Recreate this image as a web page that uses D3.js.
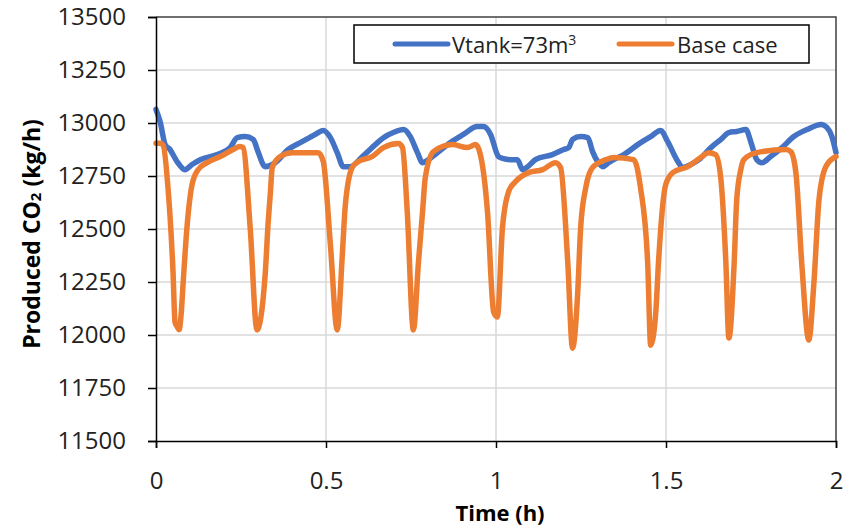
<!DOCTYPE html>
<html>
<head>
<meta charset="utf-8">
<script src="https://cdn.jsdelivr.net/npm/d3@7"></script>
<style>
  html, body { margin: 0; padding: 0; background: #fff; }
  svg { display: block; }
</style>
</head>
<body>
<svg id="chart" width="843" height="526"></svg>
<script>
// Produced CO2 over two hours: buffer tank (73 m3) versus the base case
const vtankTime = [0.000, 0.012, 0.027, 0.041, 0.062, 0.085, 0.106, 0.130, 0.180, 0.218, 0.239, 0.262, 0.286, 0.300, 0.321, 0.351, 0.389, 0.430, 0.468, 0.492, 0.513, 0.533, 0.551, 0.571, 0.607, 0.645, 0.669, 0.698, 0.728, 0.748, 0.769, 0.784, 0.801, 0.828, 0.866, 0.904, 0.945, 0.963, 0.984, 1.007, 1.019, 1.043, 1.063, 1.078, 1.093, 1.116, 1.166, 1.199, 1.214, 1.225, 1.249, 1.270, 1.284, 1.299, 1.314, 1.331, 1.346, 1.376, 1.417, 1.455, 1.484, 1.505, 1.535, 1.549, 1.573, 1.597, 1.632, 1.661, 1.685, 1.708, 1.735, 1.750, 1.767, 1.782, 1.808, 1.841, 1.876, 1.915, 1.956, 1.973, 1.988, 2.000];
const vtankCO2 = [13064, 13007, 12898, 12875, 12818, 12780, 12804, 12827, 12851, 12884, 12931, 12936, 12922, 12865, 12794, 12813, 12875, 12912, 12946, 12965, 12931, 12860, 12794, 12794, 12842, 12898, 12931, 12955, 12969, 12936, 12860, 12813, 12827, 12860, 12908, 12946, 12983, 12983, 12946, 12842, 12833, 12827, 12827, 12780, 12794, 12827, 12851, 12875, 12884, 12922, 12936, 12931, 12865, 12818, 12794, 12813, 12827, 12851, 12898, 12936, 12965, 12912, 12818, 12790, 12804, 12827, 12884, 12922, 12955, 12960, 12969, 12908, 12827, 12813, 12842, 12884, 12936, 12969, 12993, 12979, 12936, 12860];

const baseTime = [0.000, 0.012, 0.021, 0.035, 0.050, 0.056, 0.062, 0.068, 0.074, 0.080, 0.091, 0.106, 0.124, 0.150, 0.189, 0.227, 0.247, 0.256, 0.277, 0.297, 0.321, 0.330, 0.336, 0.342, 0.365, 0.401, 0.477, 0.492, 0.513, 0.533, 0.548, 0.557, 0.577, 0.595, 0.636, 0.669, 0.713, 0.725, 0.739, 0.757, 0.772, 0.784, 0.792, 0.816, 0.872, 0.916, 0.940, 0.954, 0.975, 0.993, 1.004, 1.019, 1.037, 1.057, 1.096, 1.137, 1.175, 1.190, 1.211, 1.225, 1.240, 1.249, 1.264, 1.284, 1.323, 1.346, 1.405, 1.425, 1.446, 1.455, 1.470, 1.478, 1.499, 1.520, 1.564, 1.602, 1.626, 1.646, 1.661, 1.676, 1.685, 1.700, 1.708, 1.720, 1.729, 1.767, 1.853, 1.867, 1.882, 1.900, 1.920, 1.935, 1.950, 1.970, 2.000];
const baseCO2 = [12905, 12905, 12895, 12700, 12300, 12060, 12040, 12025, 12100, 12250, 12506, 12709, 12780, 12813, 12842, 12875, 12889, 12884, 12506, 12024, 12283, 12534, 12662, 12790, 12842, 12860, 12860, 12818, 12425, 12024, 12378, 12615, 12790, 12818, 12842, 12884, 12903, 12884, 12581, 12024, 12345, 12581, 12742, 12865, 12898, 12884, 12898, 12851, 12581, 12108, 12085, 12506, 12676, 12723, 12766, 12780, 12813, 12790, 12345, 11938, 12190, 12506, 12695, 12790, 12827, 12837, 12827, 12695, 12345, 11952, 12108, 12345, 12709, 12766, 12794, 12837, 12860, 12851, 12742, 12345, 11986, 12321, 12638, 12780, 12827, 12860, 12875, 12865, 12766, 12321, 11976, 12245, 12638, 12794, 12842];

const xTicks = [0, 0.5, 1, 1.5, 2];
const yTicks = [11500, 11750, 12000, 12250, 12500, 12750, 13000, 13250, 13500];
const seriesNames = ["Vtank=73m", "Base case"];
const seriesColors = ["#4472C4", "#ED7D31"];

const svg = d3.select("#chart");
const plot = { left: 156, right: 836, top: 17, bottom: 441 };

const x = d3.scaleLinear().domain([0, 2]).range([plot.left, plot.right]);
const y = d3.scaleLinear().domain([11500, 13500]).range([plot.bottom, plot.top]);

const tickFont = "'Open Sans', 'Liberation Sans', sans-serif";

// gridlines
svg.append("g")
  .selectAll("line")
  .data(yTicks.filter(v => v > 11500 && v < 13500))
  .join("line")
  .attr("x1", plot.left).attr("x2", plot.right)
  .attr("y1", d => y(d)).attr("y2", d => y(d))
  .attr("stroke", "#d9d9d9").attr("stroke-width", 1.5);

svg.append("g")
  .selectAll("line")
  .data(xTicks.filter(v => v > 0 && v < 2))
  .join("line")
  .attr("y1", plot.top).attr("y2", plot.bottom)
  .attr("x1", d => x(d)).attr("x2", d => x(d))
  .attr("stroke", "#d9d9d9").attr("stroke-width", 1.5);

// plot frame (top and right)
svg.append("path")
  .attr("d", `M${plot.left},${plot.top}H${plot.right}V${plot.bottom}`)
  .attr("fill", "none").attr("stroke", "#404040").attr("stroke-width", 1.5);

// series lines
const line = d3.line().x(d => x(d[0])).y(d => y(d[1])).curve(d3.curveMonotoneX);
const vtankPts = vtankTime.map((t, i) => [t, vtankCO2[i]]);
const basePts = baseTime.map((t, i) => [t, baseCO2[i]]);

const lines = svg.append("g")
  .attr("fill", "none")
  .attr("stroke-width", 5.5)
  .attr("stroke-linejoin", "round")
  .attr("stroke-linecap", "round");
lines.append("path").datum(vtankPts).attr("d", line).attr("stroke", seriesColors[0]);
lines.append("path").datum(basePts).attr("d", line).attr("stroke", seriesColors[1]);

// axes
const yAxis = svg.append("g")
  .attr("transform", `translate(${plot.left},0)`)
  .call(d3.axisLeft(y).tickValues(yTicks).tickSize(8).tickPadding(22).tickFormat(d3.format("d")));
const xAxis = svg.append("g")
  .attr("transform", `translate(0,${plot.bottom})`)
  .call(d3.axisBottom(x).tickValues(xTicks).tickSize(7).tickPadding(22).tickFormat(d => String(d)));

[yAxis, xAxis].forEach(ax => {
  ax.select(".domain").attr("stroke", "#000").attr("stroke-width", 1.5);
  ax.selectAll(".tick line").attr("stroke", "#000").attr("stroke-width", 1.5);
  ax.selectAll(".tick text")
    .attr("fill", "#222")
    .style("font-family", tickFont)
    .style("font-size", "24px");
});
xAxis.selectAll(".tick text").attr("y", 38).attr("dy", "0").attr("dominant-baseline", "central");

// axis titles
const yTitle = svg.append("text")
  .attr("transform", `translate(31,${(plot.top + plot.bottom) / 2 + 5}) rotate(-90)`)
  .attr("text-anchor", "middle")
  .attr("dominant-baseline", "central")
  .style("font-family", "'Open Sans', sans-serif")
  .style("font-weight", "bold")
  .style("font-size", "23px")
  .attr("fill", "#000");
yTitle.append("tspan").text("Produced CO");
yTitle.append("tspan").attr("baseline-shift", "-25%").style("font-size", "15px").text("2");
yTitle.append("tspan").text(" (kg/h)");

svg.append("text")
  .attr("x", 500).attr("y", 512)
  .attr("text-anchor", "middle")
  .attr("dominant-baseline", "central")
  .style("font-family", "'Open Sans', sans-serif")
  .style("font-weight", "bold")
  .style("font-size", "22px")
  .attr("fill", "#000")
  .text("Time (h)");

// legend
const legend = svg.append("g");
legend.append("rect")
  .attr("x", 354).attr("y", 25).attr("width", 455).attr("height", 38)
  .attr("fill", "#fff").attr("stroke", "#000").attr("stroke-width", 1.5);

const legendItems = [
  { x0: 395, x1: 448, tx: 452 },
  { x0: 619, x1: 672, tx: 677 }
];
legendItems.forEach((it, i) => {
  legend.append("line")
    .attr("x1", it.x0).attr("x2", it.x1).attr("y1", 44).attr("y2", 44)
    .attr("stroke", seriesColors[i]).attr("stroke-width", 5).attr("stroke-linecap", "round");
  const t = legend.append("text")
    .attr("x", it.tx).attr("y", 44)
    .attr("dominant-baseline", "central")
    .style("font-family", "'Open Sans', sans-serif")
    .style("font-size", "22px")
    .attr("fill", "#222")
    .text(seriesNames[i]);
  if (i === 0) {
    t.append("tspan").attr("baseline-shift", "35%").style("font-size", "14px").text("3");
  }
});
</script>
</body>
</html>
